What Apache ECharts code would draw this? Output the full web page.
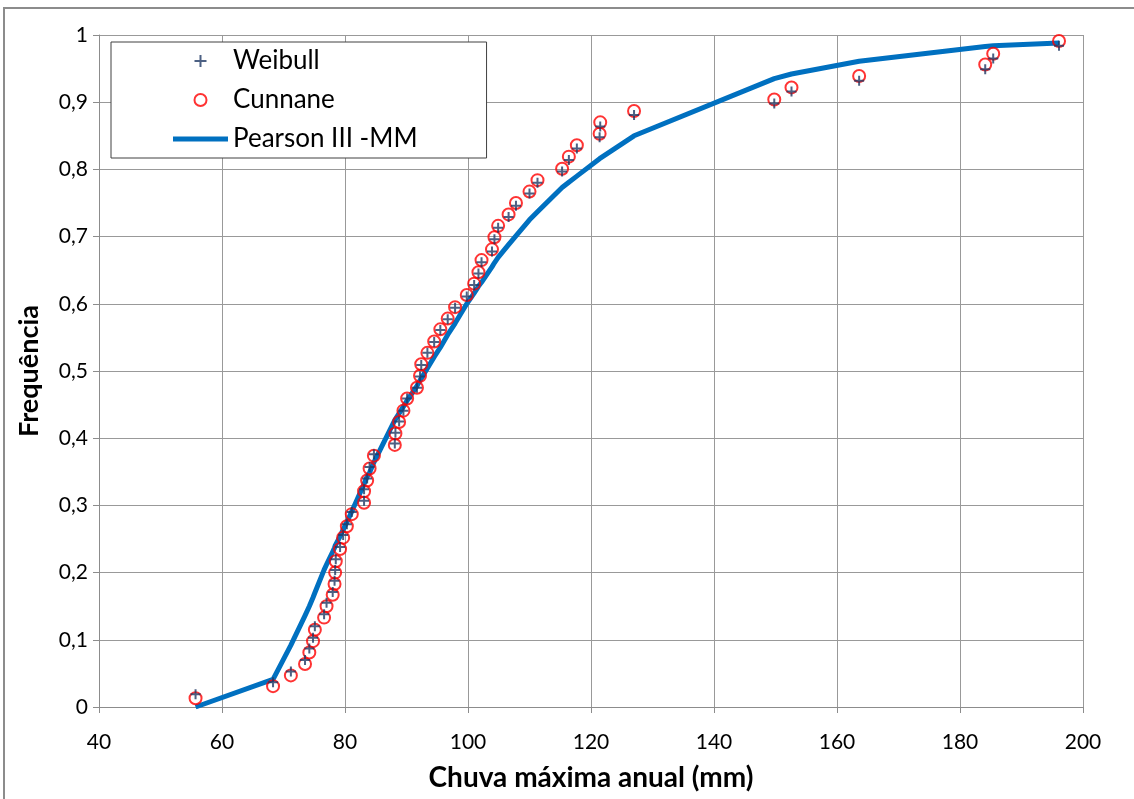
<!DOCTYPE html>
<html>
<head>
<meta charset="utf-8">
<script src="https://cdn.jsdelivr.net/npm/echarts@6.0.0/dist/echarts.min.js"></script>
<style>
  html, body { margin: 0; padding: 0; background: #fff; }
  #chart { width: 1134px; height: 799px; }
</style>
</head>
<body>
<div id="chart"></div>
<script>
// chuva máxima anual (mm), ordenada
const rainfall = [55.7, 68.3, 71.2, 73.5, 74.2, 74.8, 75.1, 76.6, 77.0, 78.0, 78.3, 78.4, 78.5, 79.2, 79.7,
  80.3, 81.1, 83.1, 83.1, 83.6, 84.0, 84.7, 88.1, 88.2, 88.8, 89.5, 90.1, 91.7, 92.2, 92.4,
  93.4, 94.5, 95.5, 96.7, 97.9, 99.8, 101.0, 101.7, 102.2, 103.9, 104.3, 104.9, 106.6, 107.8, 110.0,
  111.3, 115.3, 116.4, 117.7, 121.4, 121.5, 127.0, 149.8, 152.6, 163.6, 184.1, 185.4, 196.1];

// frequências empíricas
const weibull = [0.019, 0.037, 0.053, 0.070, 0.087, 0.103, 0.120, 0.138, 0.155, 0.171, 0.188, 0.204, 0.220, 0.238, 0.256,
  0.272, 0.290, 0.307, 0.324, 0.340, 0.357, 0.376, 0.392, 0.408, 0.425, 0.441, 0.459, 0.475, 0.492, 0.509,
  0.527, 0.543, 0.561, 0.577, 0.594, 0.611, 0.628, 0.645, 0.662, 0.678, 0.696, 0.713, 0.729, 0.746, 0.764,
  0.780, 0.797, 0.814, 0.831, 0.848, 0.864, 0.881, 0.898, 0.916, 0.932, 0.949, 0.965, 0.984];

const cunnane = [0.013, 0.031, 0.047, 0.064, 0.081, 0.098, 0.115, 0.133, 0.150, 0.167, 0.183, 0.200, 0.217, 0.235, 0.252,
  0.269, 0.287, 0.304, 0.321, 0.337, 0.355, 0.374, 0.390, 0.407, 0.424, 0.441, 0.459, 0.475, 0.493, 0.510,
  0.527, 0.544, 0.562, 0.578, 0.595, 0.613, 0.630, 0.647, 0.665, 0.681, 0.699, 0.716, 0.733, 0.750, 0.767,
  0.784, 0.801, 0.819, 0.836, 0.853, 0.870, 0.887, 0.904, 0.922, 0.939, 0.956, 0.972, 0.991];

// Pearson III - método dos momentos
const pearson = [0.000, 0.041, 0.092, 0.136, 0.150, 0.163, 0.170, 0.204, 0.212, 0.231, 0.237, 0.240, 0.240, 0.254, 0.264,
  0.275, 0.291, 0.332, 0.332, 0.343, 0.349, 0.364, 0.427, 0.428, 0.437, 0.447, 0.456, 0.478, 0.486, 0.488,
  0.504, 0.521, 0.535, 0.554, 0.571, 0.600, 0.616, 0.626, 0.632, 0.655, 0.661, 0.669, 0.688, 0.701, 0.725,
  0.737, 0.773, 0.781, 0.790, 0.816, 0.817, 0.850, 0.935, 0.942, 0.961, 0.983, 0.984, 0.988];

const seriesNames = ['Weibull', 'Cunnane', 'Pearson III -MM'];
const yTickLabels = ['0', '0,1', '0,2', '0,3', '0,4', '0,5', '0,6', '0,7', '0,8', '0,9', '1'];

const crossPath = 'path://M5,0L5,10M0,5L10,5';
const barPath = 'path://M0,0L55,0L55,5L0,5Z';
const font = 'Lato, "Open Sans", sans-serif';

const pairs = (ys) => rainfall.map((x, i) => [x, ys[i]]);

const chart = echarts.init(document.getElementById('chart'));
const option = {
  animation: false,
  textStyle: { fontFamily: font },
  grid: { left: 99, right: 51, top: 35, bottom: 92 },
  legend: {
    orient: 'vertical',
    left: 111,
    top: 42,
    padding: [6, 69, 6, 62],
    itemGap: 13,
    itemWidth: 55,
    itemHeight: 12,
    backgroundColor: '#fff',
    borderColor: '#404040',
    borderWidth: 1,
    borderRadius: 0,
    textStyle: { fontSize: 26, color: '#000', fontFamily: font },
    data: [
      { name: seriesNames[0], icon: crossPath },
      { name: seriesNames[1], icon: 'circle' },
      { name: seriesNames[2], icon: barPath, itemStyle: { color: '#0070c0' } }
    ]
  },
  xAxis: {
    type: 'value',
    min: 40, max: 200, interval: 20,
    name: 'Chuva máxima anual (mm)',
    nameLocation: 'middle',
    nameGap: 57,
    nameTextStyle: { fontSize: 28, fontWeight: 'bold', color: '#000', fontFamily: font },
    axisLine: { show: true, lineStyle: { color: '#8c8c8c', width: 1 } },
    axisTick: { show: true, length: 6, lineStyle: { color: '#8c8c8c' } },
    axisLabel: { fontSize: 21, color: '#000', margin: 25 },
    splitLine: { show: true, lineStyle: { color: '#999', width: 1 } }
  },
  yAxis: {
    type: 'value',
    min: 0, max: 1, interval: 0.1,
    name: 'Frequência',
    nameLocation: 'middle',
    nameGap: 56,
    nameTextStyle: { fontSize: 27, fontWeight: 'bold', color: '#000', fontFamily: font },
    axisLine: { show: true, lineStyle: { color: '#8c8c8c', width: 1 } },
    axisTick: { show: true, length: 6, lineStyle: { color: '#8c8c8c' } },
    axisLabel: {
      fontSize: 21, color: '#000', margin: 11,
      formatter: (v) => yTickLabels[Math.round(v * 10)]
    },
    splitLine: { show: true, lineStyle: { color: '#999', width: 1 } }
  },
  series: [
    {
      name: seriesNames[2],
      type: 'line',
      data: pairs(pearson),
      showSymbol: false,
      symbol: 'none',
      smooth: false,
      z: 1,
      itemStyle: { color: '#0070c0' },
      lineStyle: { color: '#0070c0', width: 5, join: 'round' }
    },
    {
      name: seriesNames[1],
      type: 'scatter',
      data: pairs(cunnane),
      symbol: 'circle',
      symbolSize: 12,
      z: 2,
      itemStyle: { color: 'transparent', borderColor: '#ff0000', borderWidth: 2 }
    },
    {
      name: seriesNames[0],
      type: 'scatter',
      data: pairs(weibull),
      symbol: crossPath,
      symbolSize: 10,
      z: 3,
      itemStyle: { color: 'transparent', borderColor: '#1f3864', borderWidth: 2 }
    }
  ],
  graphic: [
    {
      type: 'rect',
      silent: true,
      shape: { x: 4, y: 8, width: 1140, height: 820 },
      style: { fill: 'none', stroke: '#8c8c8c', lineWidth: 2 }
    }
  ]
};
chart.setOption(option);
</script>
</body>
</html>
